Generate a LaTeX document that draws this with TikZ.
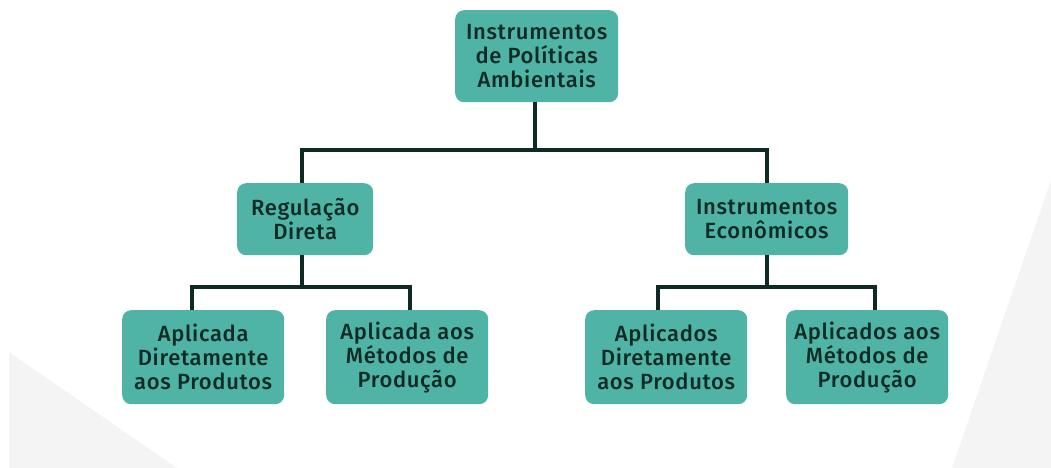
\documentclass[tikz,border=0pt]{standalone}
\usepackage{fontspec}
\setmainfont{Fira Sans}[UprightFont={* Medium},LetterSpace=3]
\definecolor{boxfill}{HTML}{4FB3A5}
\definecolor{txt}{HTML}{0E2B25}
\definecolor{ln}{HTML}{0F2A24}
\definecolor{bgshape}{HTML}{F4F4F5}
\begin{document}
\begin{tikzpicture}[x=1pt,y=-1pt,
  box/.style={fill=boxfill, rounded corners=9pt, text=txt, align=center,
    font=\fontsize{22}{24}\selectfont, inner sep=0pt, anchor=north west},
  conn/.style={draw=ln, line width=4.5pt}]
\useasboundingbox (0,0) rectangle (1051,468);
\fill[bgshape] (9,352) -- (177,468) -- (9,468) -- cycle;
\fill[bgshape] (1051,180) -- (952,468) -- (1051,468) -- cycle;
% junctions and leg positions
\coordinate (j0) at (535,150);
\coordinate (j1) at (302,287);
\coordinate (j2) at (767,287);
\coordinate (l1) at (192,0);
\coordinate (l2) at (410,0);
\coordinate (l3) at (658,0);
\coordinate (l4) at (875,0);
% nodes
\node[box, minimum width=163pt, minimum height=92pt] (top) at (455,10) {Instrumentos\\de Políticas\\Ambientais};
\node[box, minimum width=136pt, minimum height=72pt] (reg) at (237,183) {Regulação\\Direta};
\node[box, minimum width=163pt, minimum height=72pt] (eco) at (685,183) {Instrumentos\\Econômicos};
\node[box, minimum width=162pt, minimum height=94pt] (a1) at (122,310) {Aplicada\\Diretamente\\aos Produtos};
\node[box, minimum width=162pt, minimum height=94pt] (a2) at (326,310) {Aplicada aos\\Métodos de\\Produção};
\node[box, minimum width=162pt, minimum height=94pt] (b1) at (585,310) {Aplicados\\Diretamente\\aos Produtos};
\node[box, minimum width=162pt, minimum height=94pt] (b2) at (786,310) {Aplicados aos\\Métodos de\\Produção};
% connectors
\draw[conn] (top.south -| j0) -- (j0);
\draw[conn] (reg.north -| j1) |- (j0) -| (eco.north -| j2);
\draw[conn] (reg.south -| j1) -- (j1);
\draw[conn] (a1.north -| l1) |- (j1) -| (a2.north -| l2);
\draw[conn] (eco.south -| j2) -- (j2);
\draw[conn] (b1.north -| l3) |- (j2) -| (b2.north -| l4);
\end{tikzpicture}
\end{document}
